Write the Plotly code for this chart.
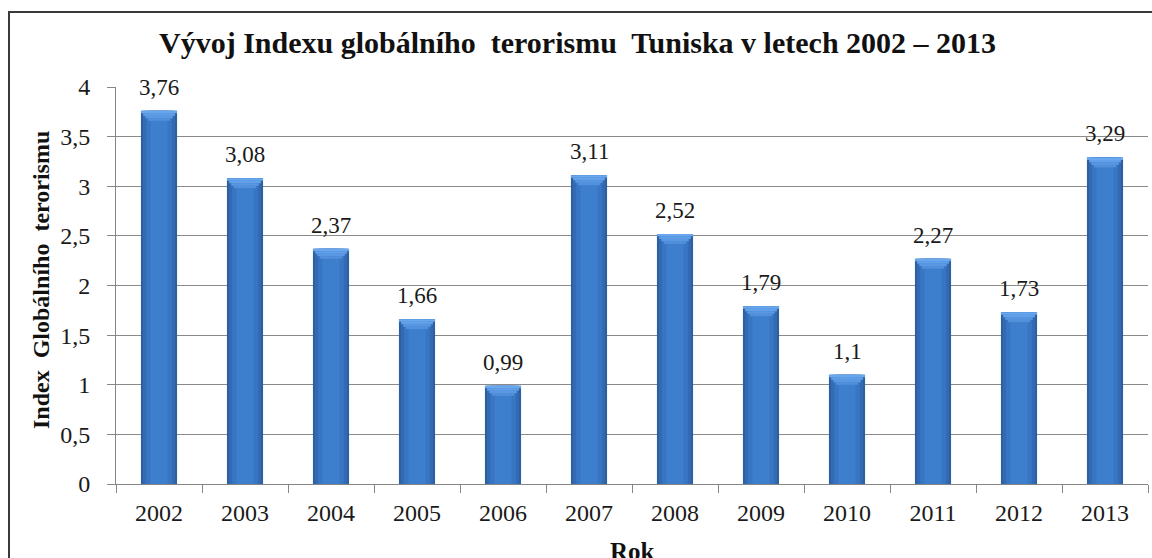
import plotly.graph_objects as go

years = ["2002", "2003", "2004", "2005", "2006", "2007", "2008", "2009", "2010", "2011", "2012", "2013"]
values = [3.76, 3.08, 2.37, 1.66, 0.99, 3.11, 2.52, 1.79, 1.10, 2.27, 1.73, 3.29]
labels = [("%g" % v).replace(".", ",") for v in values]

title_text = "Vývoj Indexu globálního  terorismu  Tuniska v letech 2002 – 2013"
y_title = "Index  Globálního  terorismu"
x_title = "Rok"

SERIF = "Liberation Serif, Times New Roman, serif"

fig = go.Figure()

# body of cylinder-like bars: layered widths from dark edge to light centre
body_layers = [(0.42, "#2d5fa3"), (0.37, "#336bb3"), (0.30, "#3875c2"), (0.20, "#3d7ecd")]
for w, c in body_layers:
    fig.add_trace(go.Bar(x=years, y=values, width=w, marker=dict(color=c, line=dict(width=0)),
                         hoverinfo="skip", showlegend=False))

# top bevel: lighter trapezoid
cap_h = 0.025
cap_layers = [(0, 0.42, "#6aa8ee"), (1, 0.37, "#62a0ea"), (2, 0.32, "#5a98e3"), (3, 0.26, "#5290dc")]
for k, w, c in cap_layers:
    bases = [v - cap_h * (k + 1) for v in values]
    fig.add_trace(go.Bar(x=years, y=[cap_h] * len(values), base=bases, width=w,
                         marker=dict(color=c, line=dict(width=0)),
                         hoverinfo="skip", showlegend=False))

for i, (v, t) in enumerate(zip(values, labels)):
    fig.add_annotation(x=i, y=v, text=t, showarrow=False, yanchor="bottom", yshift=9,
                       font=dict(family=SERIF, size=23, color="#1a1a1a"))

# chart frame
fig.add_shape(type="rect", xref="paper", yref="paper",
              x0=(9 - 116) / 1032, x1=1.03, y0=-0.3, y1=(484 - 12) / 397,
              line=dict(color="#3a3a3a", width=2), fillcolor="rgba(0,0,0,0)", layer="below")

fig.add_annotation(xref="paper", yref="paper", x=(577 - 116) / 1032, y=(484 - 42) / 397,
                   text="<b>" + title_text + "</b>", showarrow=False, xanchor="center", yanchor="middle",
                   font=dict(family=SERIF, size=30, color="#111"))
fig.add_annotation(xref="paper", yref="paper", x=(41 - 116) / 1032, y=(484 - 280) / 397, textangle=-90,
                   text="<b>" + y_title + "</b>", showarrow=False, xanchor="center", yanchor="middle",
                   font=dict(family=SERIF, size=24, color="#111"))
fig.add_annotation(xref="paper", yref="paper", x=0.5, y=(484 - 551) / 397,
                   text="<b>" + x_title + "</b>", showarrow=False, xanchor="center", yanchor="middle",
                   font=dict(family=SERIF, size=25, color="#111"))

fig.update_layout(
    width=1152, height=558,
    margin=dict(l=116, r=4, t=87, b=74),
    paper_bgcolor="white", plot_bgcolor="white",
    barmode="overlay", bargap=0.2,
    separators=", ",
    showlegend=False,
    xaxis=dict(type="category", range=[-0.5, len(years) - 0.5], automargin=False,
               showline=True, linecolor="#868686", linewidth=1,
               ticks="outside", ticklen=8, tickcolor="#868686", tickson="boundaries",
               showgrid=False, ticklabelstandoff=7, tickangle=0,
               tickfont=dict(family=SERIF, size=24, color="#1a1a1a")),
    yaxis=dict(range=[0, 4], dtick=0.5, tickformat=".1~f", automargin=False,
               showline=True, linecolor="#868686",
               linewidth=1, ticks="outside", ticklen=8, tickcolor="#868686",
               showgrid=True, gridcolor="#8a8a8a", gridwidth=1, zeroline=False,
               ticklabelstandoff=12,
               tickfont=dict(family=SERIF, size=24, color="#1a1a1a")),
)

fig.write_html("out.html", config={"displayModeBar": False},
               post_script="document.body.style.margin='0';document.body.style.overflow='hidden';")
